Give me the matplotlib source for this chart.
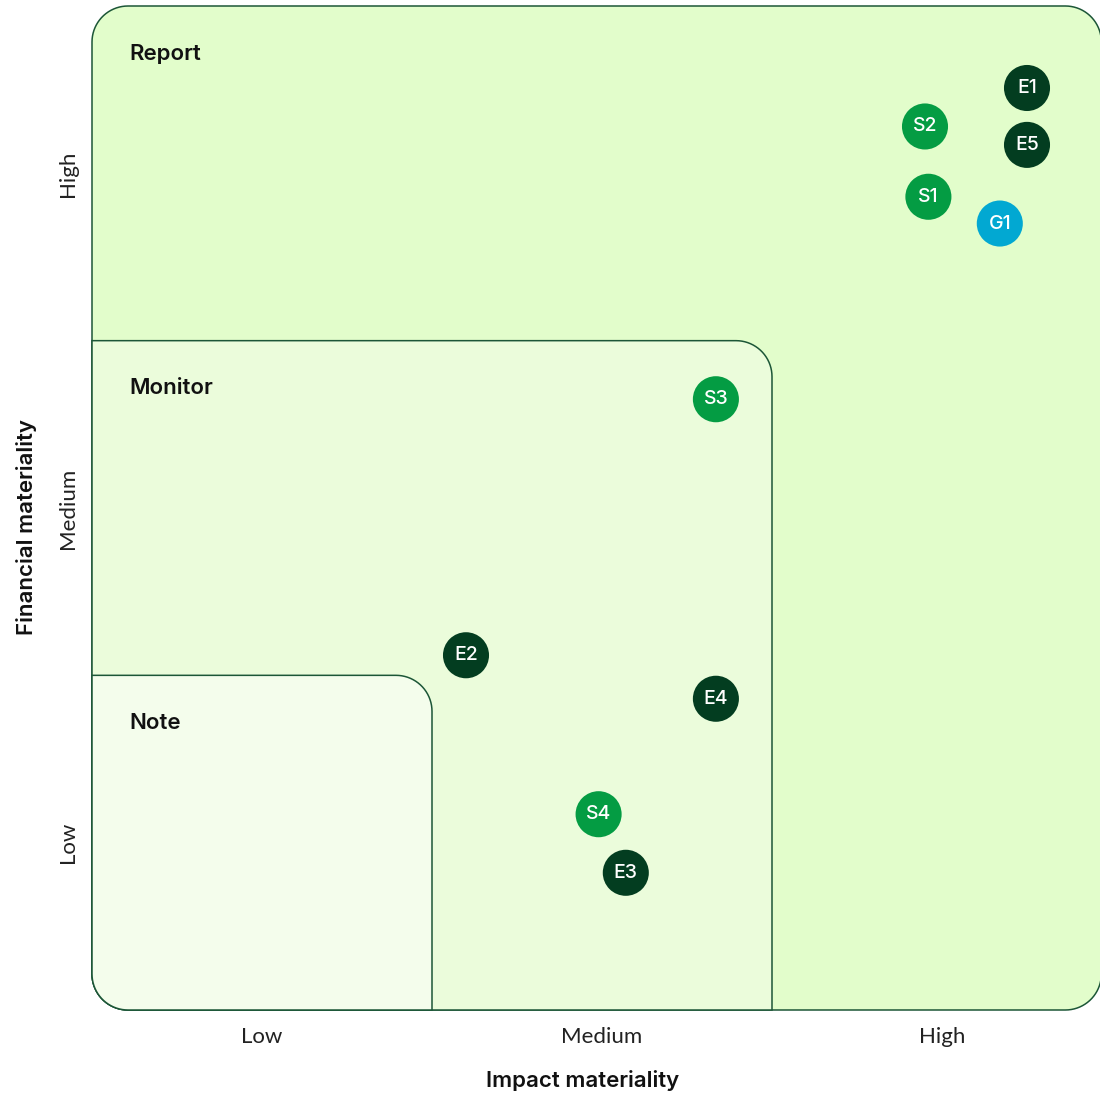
import numpy as np
import matplotlib.pyplot as plt
from matplotlib.path import Path
from matplotlib.patches import PathPatch

# topics: (label, impact, financial, group)
labels = ["E1", "S2", "E5", "S1", "G1", "S3", "E2", "E4", "S4", "E3"]
impact = [2.75, 2.45, 2.75, 2.46, 2.67, 1.835, 1.10, 1.835, 1.49, 1.57]
financial = [2.755, 2.64, 2.585, 2.43, 2.35, 1.825, 1.06, 0.93, 0.585, 0.41]
groups = ["E", "S", "E", "S", "G", "S", "E", "E", "S", "E"]

tick_names = ["Low", "Medium", "High"]
zones = ["Report", "Monitor", "Note"]
zone_size = [3, 2, 1]

COLORS = {"E": "#033d20", "S": "#049c43", "G": "#02a8d2"}
ZONE_FILL = {"Report": "#e2fdcb", "Monitor": "#ebfcdb", "Note": "#f4fdec"}
EDGE = "#1c5637"

W, H = 1100, 1095
X_UNIT, Y_UNIT = 340.0, 334.7   # pixels per category
LEFT, BOTTOM, TOP = 92, 1010, 6

plt.rcParams["font.family"] = ["Inter", "DejaVu Sans"]

fig = plt.figure(figsize=(W / 100, H / 100), dpi=100)
ax = fig.add_axes([LEFT / W, (H - BOTTOM) / H, (W - LEFT) / W, (BOTTOM - TOP) / H])
xmax = (W - LEFT) / X_UNIT
ax.set_xlim(0, xmax)
ax.set_ylim(0, 3)


def rounded_box(x1, y1, r_px, corners):
    # box from (0,0) to (x1,y1), rounding only the named corners
    rx, ry = r_px / X_UNIT, r_px / Y_UNIT
    pts = []

    def arc(cx, cy, a0, a1):
        t = np.linspace(np.radians(a0), np.radians(a1), 20)
        pts.extend(zip(cx + rx * np.cos(t), cy + ry * np.sin(t)))

    if "bl" in corners:
        arc(rx, ry, 180, 270)
    else:
        pts.append((0, 0))
    if "br" in corners:
        arc(x1 - rx, ry, 270, 360)
    else:
        pts.append((x1, 0))
    if "tr" in corners:
        arc(x1 - rx, y1 - ry, 0, 90)
    else:
        pts.append((x1, y1))
    if "tl" in corners:
        arc(rx, y1 - ry, 90, 180)
    else:
        pts.append((0, y1))
    pts.append(pts[0])
    codes = [Path.MOVETO] + [Path.LINETO] * (len(pts) - 2) + [Path.CLOSEPOLY]
    return Path(pts, codes)


for name, size in zip(zones, zone_size):
    if name == "Report":
        path = rounded_box(xmax + 0.004, 3, 36, ["bl", "br", "tr", "tl"])
    else:
        path = rounded_box(size, size, 36, ["bl", "tr"])
    ax.add_patch(PathPatch(path, facecolor=ZONE_FILL[name], edgecolor=EDGE,
                           linewidth=1.1, clip_on=False))
    ax.text(0.11, size - 0.142, name, fontsize=16, fontweight="semibold",
            color="#111111", va="center", ha="left")

ax.scatter(impact, financial, s=1100, c=[COLORS[g] for g in groups],
           linewidths=0, zorder=3)
for lab, x, y in zip(labels, impact, financial):
    ax.text(x, y, lab, color="white", fontsize=14, fontweight="medium",
            ha="center", va="center", zorder=4)

ax.set_xticks([0.5, 1.5, 2.5], tick_names, fontfamily="Lato", fontsize=16,
              color="#222222")
ax.set_yticks([0.5, 1.5, 2.5], tick_names, fontfamily="Lato", fontsize=16,
              color="#222222", rotation=90, va="center")
ax.tick_params(axis="both", length=0)
ax.tick_params(axis="x", pad=12)
ax.tick_params(axis="y", pad=10)
for s in ax.spines.values():
    s.set_visible(False)

ax.set_xlabel("Impact materiality", fontsize=16, fontweight="semibold",
              color="#111111")
ax.set_ylabel("Financial materiality", fontsize=16, fontweight="semibold",
              color="#111111")
ax.xaxis.set_label_coords((583 - LEFT) / (W - LEFT), -(1070 - BOTTOM) / (BOTTOM - TOP))
ax.yaxis.set_label_coords(-(LEFT - 37) / (W - LEFT), (BOTTOM - 527) / (BOTTOM - TOP))

fig.savefig("out.png", dpi=100)
